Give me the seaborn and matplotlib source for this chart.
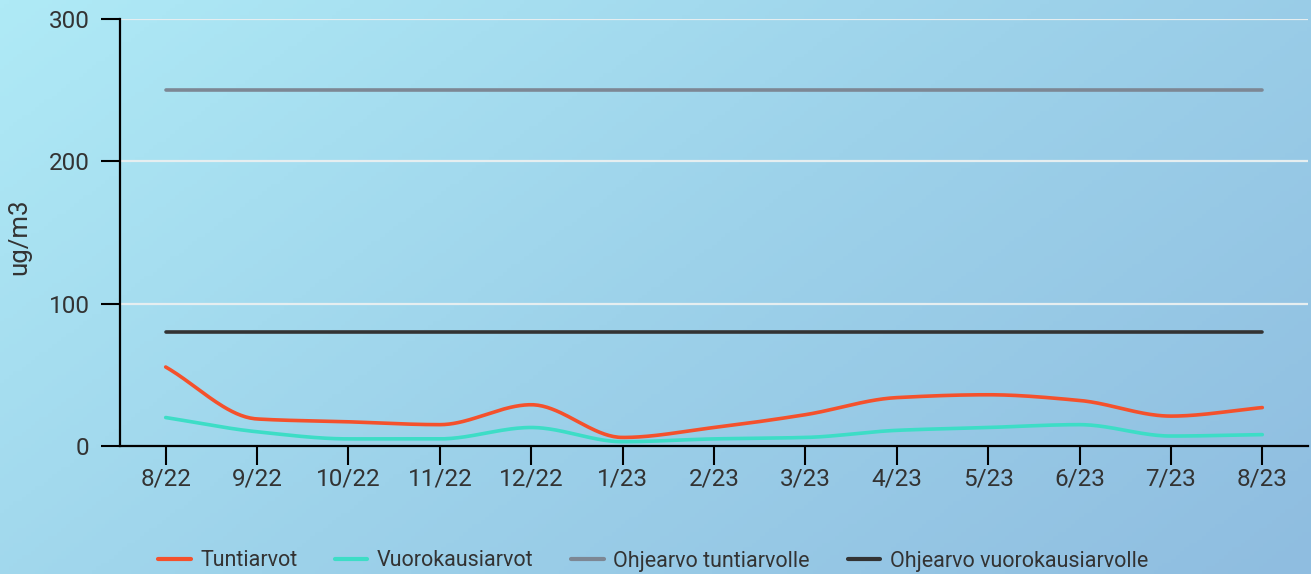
import numpy as np
import pandas as pd
import matplotlib
matplotlib.use("Agg")
import matplotlib.pyplot as plt
from matplotlib.colors import LinearSegmentedColormap
import seaborn as sns

# data
months = ["8/22", "9/22", "10/22", "11/22", "12/22", "1/23", "2/23",
          "3/23", "4/23", "5/23", "6/23", "7/23", "8/23"]
tuntiarvot = [55.5, 19, 17, 15, 29, 6, 13, 22, 34, 36, 32, 21, 27]
vuorokausiarvot = [20, 10, 5, 5, 13, 3, 5, 6, 11, 13, 15, 7, 8]
ohje_tunti = 250
ohje_vuorokausi = 80

series_names = ["Tuntiarvot", "Vuorokausiarvot",
                "Ohjearvo tuntiarvolle", "Ohjearvo vuorokausiarvolle"]
colors = ["#F4512C", "#3DDDC6", "#7D8794", "#333333"]


def pchip(x, y, n=40):
    """monotone cubic curve through the points (for the smooth line look)"""
    x = np.asarray(x, float)
    y = np.asarray(y, float)
    h = np.diff(x)
    d = np.diff(y) / h
    m = np.zeros_like(y)
    for k in range(1, len(y) - 1):
        if d[k - 1] * d[k] > 0:
            w1 = 2 * h[k] + h[k - 1]
            w2 = h[k] + 2 * h[k - 1]
            m[k] = (w1 + w2) / (w1 / d[k - 1] + w2 / d[k])
    m[0], m[-1] = d[0], d[-1]
    xs, ys = [], []
    for k in range(len(h)):
        t = np.linspace(0, 1, n, endpoint=False)
        h00 = 2 * t**3 - 3 * t**2 + 1
        h10 = t**3 - 2 * t**2 + t
        h01 = -2 * t**3 + 3 * t**2
        h11 = t**3 - t**2
        xs.append(x[k] + t * h[k])
        ys.append(h00 * y[k] + h10 * h[k] * m[k] + h01 * y[k + 1] + h11 * h[k] * m[k + 1])
    xs.append([x[-1]])
    ys.append([y[-1]])
    return np.concatenate(xs), np.concatenate(ys)


idx = np.arange(len(months))
frames = []
for name, vals in [(series_names[0], tuntiarvot), (series_names[1], vuorokausiarvot)]:
    sx, sy = pchip(idx, vals)
    frames.append(pd.DataFrame({"x": sx, "y": sy, "sarja": name}))
for name, val in [(series_names[2], ohje_tunti), (series_names[3], ohje_vuorokausi)]:
    frames.append(pd.DataFrame({"x": idx, "y": [val] * len(idx), "sarja": name}))
df = pd.concat(frames, ignore_index=True)

sns.set_theme(style="white")
plt.rcParams["font.family"] = ["Roboto", "DejaVu Sans"]

fig = plt.figure(figsize=(13.11, 5.74), dpi=100)

# gradient background
bg = fig.add_axes([0, 0, 1, 1], zorder=-10)
gx, gy = np.meshgrid(np.linspace(0, 1, 300), np.linspace(0, 1, 150))
grad = (gx * 0.75 + gy * 0.45) / 1.2
cmap = LinearSegmentedColormap.from_list("bg", ["#AFEAF6", "#9DD2EA", "#8FBDE0"])
bg.imshow(grad, cmap=cmap, aspect="auto", extent=[0, 1, 0, 1], origin="upper")
bg.axis("off")

ax = fig.add_axes([120 / 1311, 1 - 446 / 574, (1308 - 120) / 1311, (446 - 19) / 574])
ax.patch.set_alpha(0)

sns.lineplot(data=df, x="x", y="y", hue="sarja", hue_order=series_names,
             palette=colors, linewidth=2.6, ax=ax, legend=False,
             estimator=None, sort=False)
for ln in ax.lines:
    ln.set_solid_capstyle("round")

ax.set_xlim(-0.5, len(months) - 0.5)
ax.set_ylim(0, 300)
ax.set_xticks(idx)
ax.set_xticklabels(months)
ax.set_yticks([0, 100, 200, 300])
ax.set_xlabel("")
ax.set_ylabel("ug/m3", fontsize=18.5, color="#333333")
ax.yaxis.set_label_coords(-0.075, 0.49)

for v in [100, 200, 300]:
    ax.axhline(v, color="#E6EEF0", linewidth=1.6, zorder=0)

sns.despine(ax=ax)
for s in ["left", "bottom"]:
    ax.spines[s].set_color("black")
    ax.spines[s].set_linewidth(1.6)
ax.tick_params(axis="both", bottom=True, left=True, direction="out",
               length=13.5, width=1.5, color="black",
               labelsize=17.5, labelcolor="#333333")
ax.tick_params(axis="y", pad=8.5)
ax.tick_params(axis="x", pad=2)

handles = [plt.Line2D([], [], color=c, linewidth=3) for c in colors]
fig.legend(handles, series_names, loc="center", bbox_to_anchor=(653 / 1311, 1 - 561 / 574),
           ncol=4, frameon=False, fontsize=15.5, labelcolor="#333333",
           handlelength=1.5, handletextpad=0.45, columnspacing=1.75)

fig.savefig("out.png", dpi=100)
